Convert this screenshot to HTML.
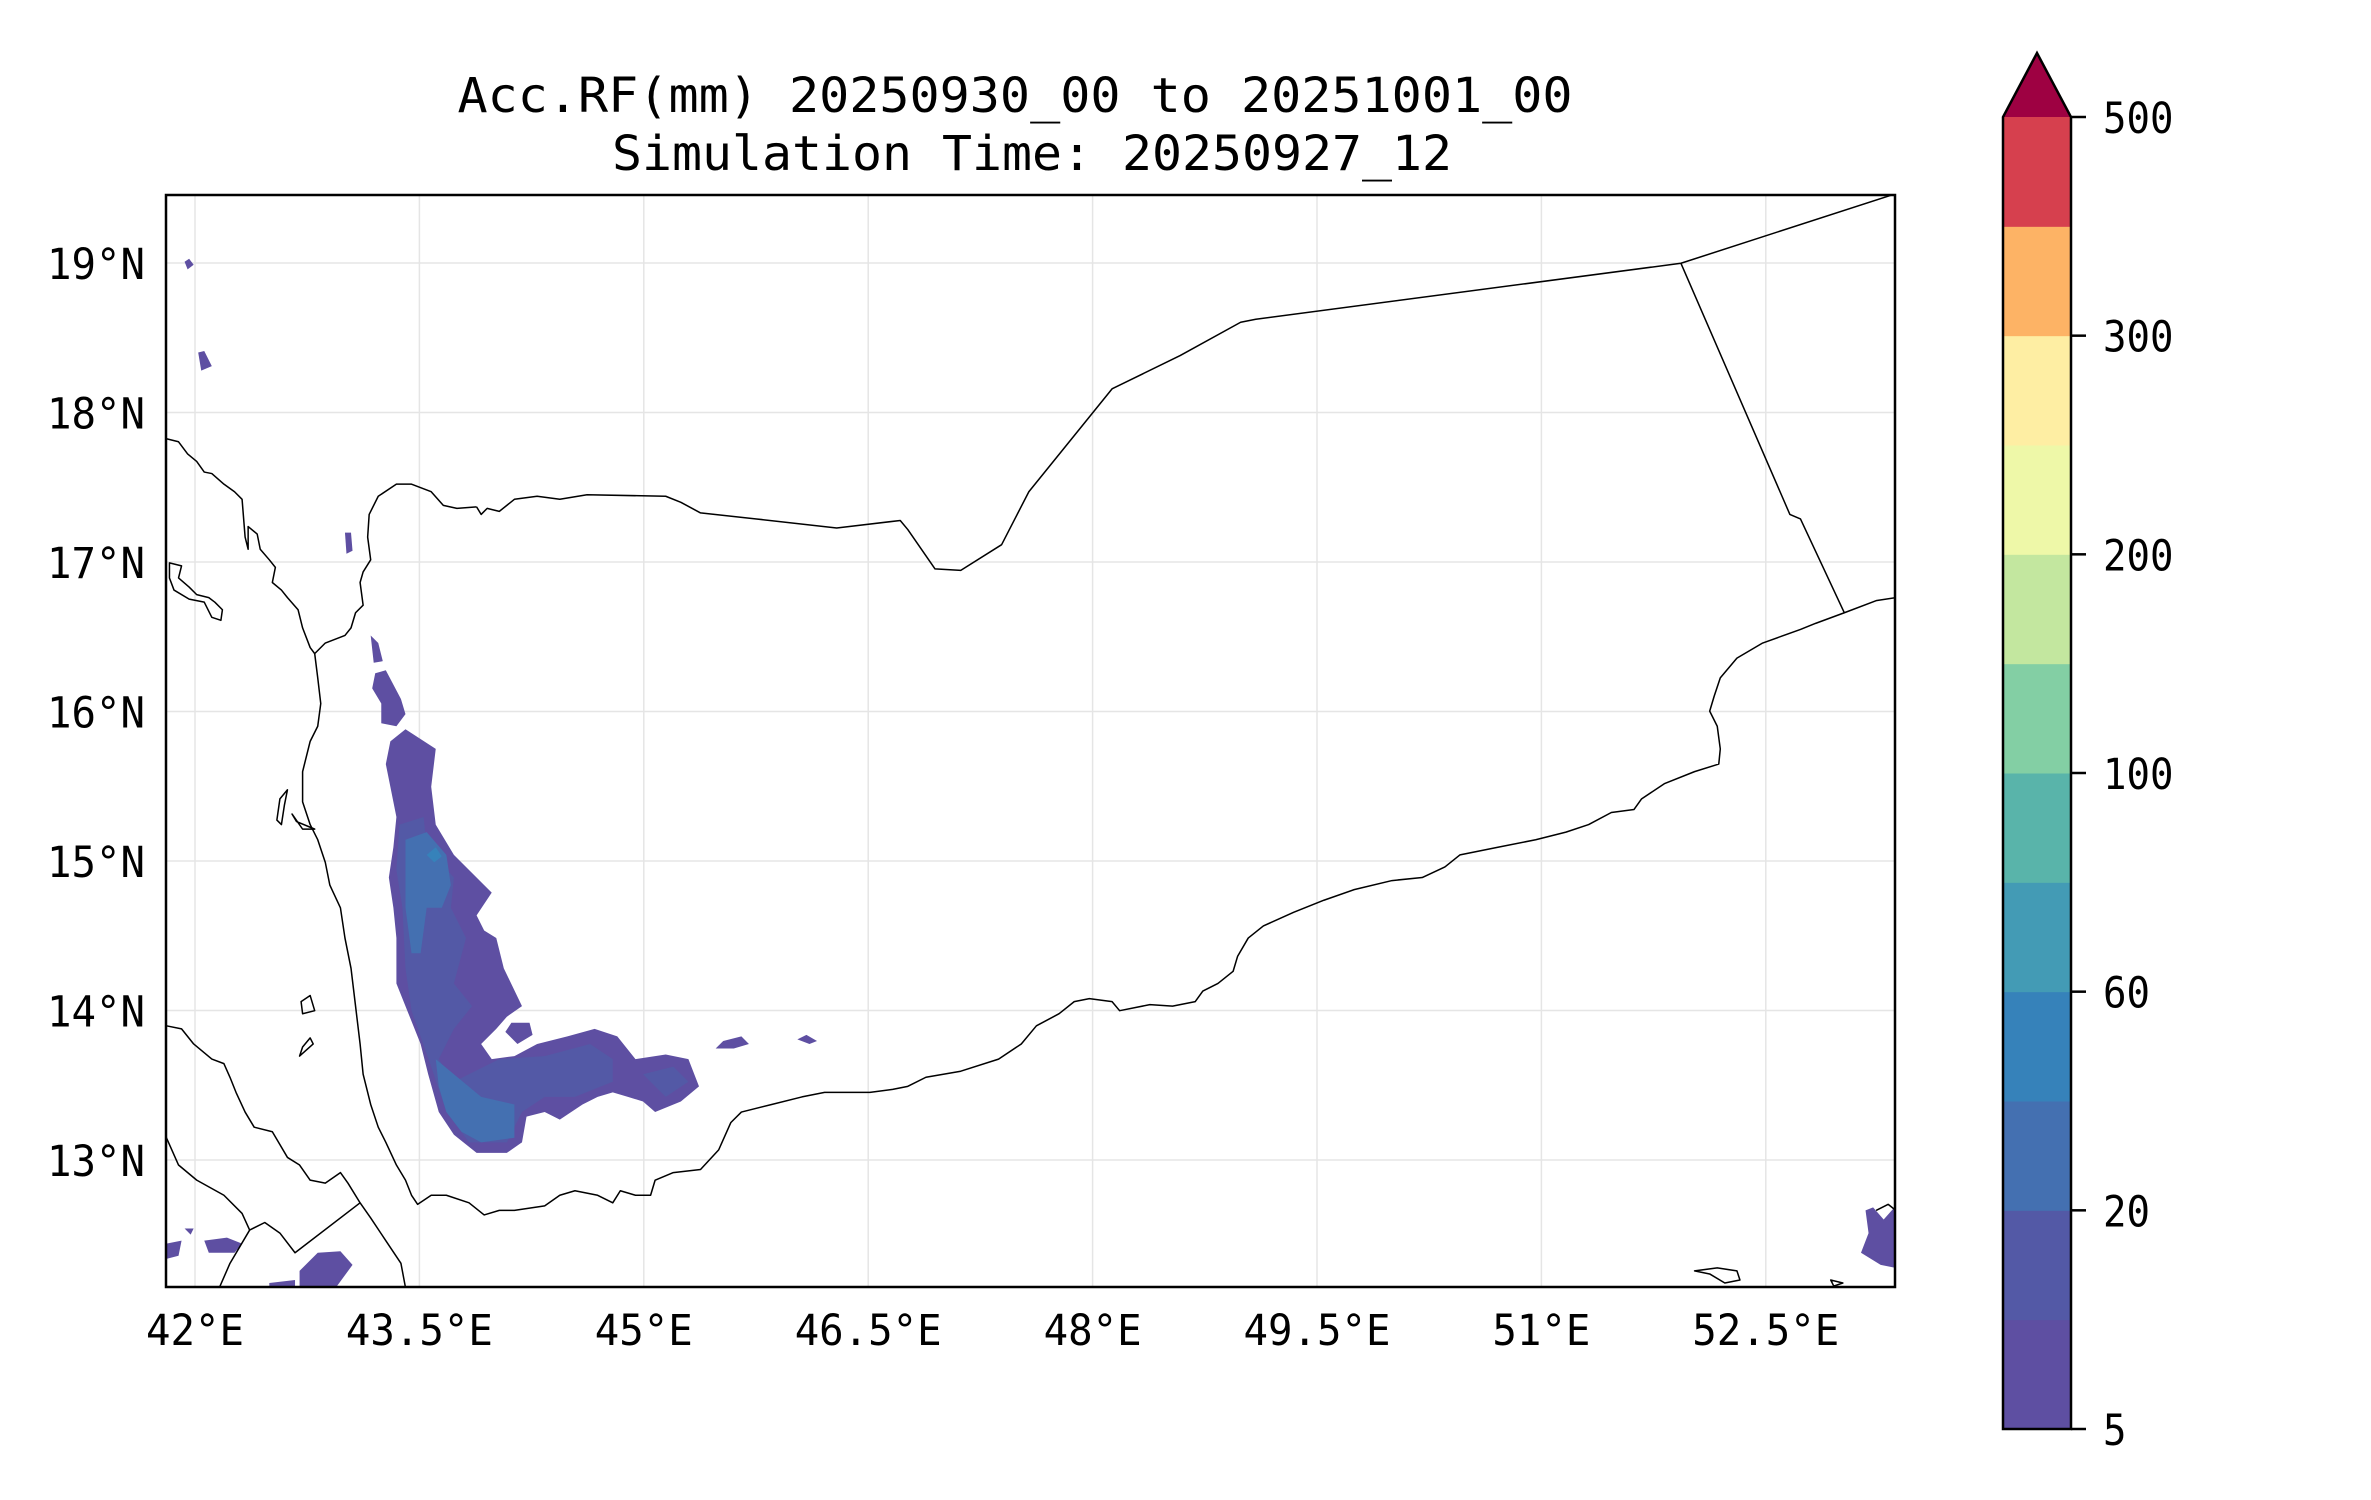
<!DOCTYPE html>
<html><head><meta charset="utf-8"><title>Acc.RF map</title>
<style>
html,body{margin:0;padding:0;background:#fff;}
svg{display:block;}
text{font-family:"DejaVu Sans Mono","Liberation Mono",monospace;fill:#000;}
</style></head>
<body>
<svg id="chart" xmlns="http://www.w3.org/2000/svg" width="2371" height="1500" viewBox="0 0 2371 1500">
  <rect x="0" y="0" width="2371" height="1500" fill="#fff"/>
  <text x="1015" y="112" font-size="48" text-anchor="middle" textLength="1115" lengthAdjust="spacingAndGlyphs">Acc.RF(mm) 20250930_00 to 20251001_00</text>
  <text x="1032" y="170" font-size="48" text-anchor="middle" textLength="840" lengthAdjust="spacingAndGlyphs">Simulation Time: 20250927_12</text>

  <defs><clipPath id="axclip"><rect x="166" y="195" width="1729" height="1092"/></clipPath></defs>
  <g id="grid" clip-path="url(#axclip)"></g>

  <g clip-path="url(#axclip)">
   <g transform="scale(1.513)">
    <g stroke="none">
      <path fill="#5e4fa2" fill-rule="evenodd" d="M258,490 L268,482 L288,495 L285,520 L288,545 L300,565 L310,575 L325,590 L315,605 L320,615 L328,620 L333,640 L345,665 L335,672 L328,680 L318,690 L325,700 L340,698 L355,690 L375,685 L393,680 L408,685 L420,700 L440,697 L455,700 L462,718 L450,728 L433,735 L425,728 L415,725 L405,722 L395,725 L385,730 L370,740 L360,735 L348,738 L345,755 L335,762 L315,762 L300,750 L290,735 L283,710 L278,690 L270,670 L262,650 L262,620 L260,600 L257,580 L260,560 L262,540 L258,520 L255,505 Z M334,682 L338,676 L350,676 L352,684 L342,690 Z"/>
      <path fill="#5359a6" d="M264,545 L280,540 L282,560 L300,580 L298,600 L308,620 L300,650 L312,665 L300,680 L290,700 L300,715 L330,700 L360,698 L390,690 L405,700 L405,715 L380,725 L360,725 L345,735 L335,755 L310,755 L295,735 L285,705 L272,668 L268,640 L266,600 L262,575 Z M425,710 L445,705 L455,715 L440,725 Z"/>
      <path fill="#4470b1" d="M268,555 L282,550 L295,565 L298,585 L292,600 L282,600 L278,630 L272,630 L268,600 Z M288,700 L300,710 L318,725 L340,730 L340,752 L318,755 L305,748 L295,735 L290,718 Z"/>
      <path fill="#3682ba" d="M282,565 L288,560 L292,566 L287,570 Z"/>
      <path fill="#5e4fa2" d="M122,173 L125,171 L128,175 L124,178 Z"/>
      <path fill="#5e4fa2" d="M131,233 L135,232 L140,242 L133,245 Z"/>
      <path fill="#5e4fa2" d="M228,352 L232,352 L233,364 L229,366 Z"/>
      <path fill="#5e4fa2" d="M245,420 L250,425 L253,437 L247,438 Z"/>
      <path fill="#5e4fa2" d="M248,445 L255,443 L265,462 L268,472 L262,480 L252,478 L252,465 L246,455 Z"/>
      <path fill="#5e4fa2" d="M473,693 L478,688 L490,685 L495,690 L485,693 Z"/>
      <path fill="#5e4fa2" d="M527,687 L533,684 L540,688 L535,690 Z"/>
      <path fill="#5e4fa2" d="M110,822 L120,820 L118,830 L110,832 Z M135,820 L150,818 L160,822 L155,828 L138,828 Z M122,812 L128,812 L126,816 Z"/>
      <path fill="#5e4fa2" d="M198,840 L210,828 L225,827 L233,836 L222,851 L198,851 Z M178,848 L195,846 L195,851 L178,851 Z"/>
      <path fill="#5e4fa2" d="M1233,800 L1238,798 L1245,806 L1253,797 L1253,838 L1243,836 L1230,828 L1235,815 Z"/>
    </g>
    <g fill="none" stroke="#000" stroke-width="1" stroke-linejoin="round">
      <path d="M110,290 L118,292 L124,300 L130,305 L135,312 L140,313 L148,320 L155,325 L160,330 L162,355 L164,363 L164,348 L170,353 L172,363 L178,370 L182,375 L180,385 L186,390 L190,395 L197,403 L200,415 L205,428 L208,432"/>
      <path d="M1253,395 L1240,397 L1219,405 L1200,412 L1190,416 L1165,425 L1148,435 L1137,448 L1133,460 L1130,470 L1135,480 L1137,495 L1136,505 L1120,510 L1100,518 L1085,528 L1080,535 L1065,537 L1050,545 L1035,550 L1015,555 L990,560 L965,565 L955,573 L940,580 L920,582 L895,588 L875,595 L855,603 L835,612 L825,620 L818,632 L815,642 L805,650 L795,655 L790,662 L775,665 L760,664 L740,668 L735,662 L720,660 L710,662 L700,670 L685,678 L675,690 L660,700 L635,708 L612,712 L600,718 L590,720 L575,722 L545,722 L530,725 L510,730 L490,735 L483,742 L475,760 L463,773 L445,775 L433,780 L430,790 L420,790 L410,787 L405,795 L395,790 L380,787 L370,790 L360,797 L340,800 L330,800 L320,803 L310,795 L295,790 L285,790 L276,796 L272,790 L268,780 L262,770 L255,755 L250,745 L245,730 L240,710 L238,690 L235,665 L232,640 L228,620 L225,600 L218,585 L215,570 L210,555 L205,545 L200,530 L200,510 L205,490 L210,480 L212,465 L210,448 L208,432 L215,425 L228,420 L232,415 L235,405 L240,400 L238,385 L240,378 L245,370 L243,355 L244,340 L250,328 L262,320 L272,320 L285,325 L293,334 L302,336 L315,335"/>
      <path d="M315,335 L318,340 L322,336 L330,338 L340,330 L355,328 L370,330 L388,327 L440,328 L450,332 L463,339 L500,343 L553,349 L595,344 L600,350 L618,376 L635,377 L662,360 L680,325 L735,257 L780,235 L820,213 L830,211 L1111,174 L1250,129"/>
      <path d="M1111,174 L1183,340 L1190,343 L1219,405"/>
      <path d="M110,678 L120,680 L128,690 L140,700 L148,703 L152,712 L156,722 L162,735 L168,745 L180,748 L190,765 L198,770 L205,780 L215,782 L225,775 L230,782 L238,795 L245,805 L255,820 L265,835 L268,851"/>
      <path d="M110,752 L118,770 L130,780 L148,790 L160,802 L165,813 L175,808 L185,815 L195,828 L238,795 M165,813 L152,835 L145,851"/>
      <path d="M112,372 L120,374 L118,382 L125,388 L130,393 L138,395 L142,398 L147,403 L146,410 L140,408 L135,398 L125,396 L115,390 L112,382 Z"/>
      <path d="M185,528 L190,522 L188,532 L186,545 L183,542 Z M193,538 L200,548 L208,548 L196,543 Z"/>
      <path d="M199,662 L205,658 L208,668 L200,670 Z M200,692 L205,686 L207,690 L198,698 Z M1120,840 L1130,842 L1140,848 L1150,846 L1148,840 L1135,838 Z M1210,846 L1218,848 L1212,850 Z M1240,800 L1248,796 L1253,800"/>
    </g>
   </g>
  </g>

  <rect x="166" y="195" width="1729" height="1092" fill="none" stroke="#000" stroke-width="2.5"/>
  <g id="xlabels"></g>
  <g id="ylabels"></g>
  <g id="cbar"></g>
</svg>
<script>
const NS = 'http://www.w3.org/2000/svg';
// map axes data
const lonTicks = [42, 43.5, 45, 46.5, 48, 49.5, 51, 52.5];
const lonLabels = ['42°E', '43.5°E', '45°E', '46.5°E', '48°E', '49.5°E', '51°E', '52.5°E'];
const latTicks = [13, 14, 15, 16, 17, 18, 19];
const latLabels = ['13°N', '14°N', '15°N', '16°N', '17°N', '18°N', '19°N'];
// colorbar data
const cbarLevels = [5, 10, 20, 40, 60, 80, 100, 150, 200, 250, 300, 400, 500];
const cbarColors = ['#5e4fa2', '#5359a6', '#4470b1', '#3682ba', '#439bb5', '#59b4aa', '#83cfa4', '#c3e79f', '#eef8a8', '#feeea3', '#fdb365', '#d6404e'];
const cbarTickValues = [5, 20, 60, 100, 200, 300, 500];
const cbarExtendColor = '#9e0142';

function xLon(lon) { return 195 + (lon - 42) * 149.6; }
function yLat(lat) { return 263 + (19 - lat) * 149.5; }
function mk(tag, attrs, parent) {
  const e = document.createElementNS(NS, tag);
  for (const k in attrs) e.setAttribute(k, attrs[k]);
  parent.appendChild(e);
  return e;
}
const CW = 24.5;
const grid = document.getElementById('grid');
const xl = document.getElementById('xlabels');
const yl = document.getElementById('ylabels');
lonTicks.forEach((lon, i) => {
  const x = xLon(lon);
  const g = mk('line', {x1: x, x2: x, y1: 195, y2: 1287, stroke: '#e5e5e5', 'stroke-width': 1.5}, grid);
  
  
  const t = mk('text', {x: x, y: 1345, 'font-size': 43, 'text-anchor': 'middle', textLength: lonLabels[i].length * CW, lengthAdjust: 'spacingAndGlyphs'}, xl);
  t.textContent = lonLabels[i];
  
  
});
latTicks.forEach((lat, i) => {
  const y = yLat(lat);
  const g = mk('line', {x1: 166, x2: 1895, y1: y, y2: y, stroke: '#e5e5e5', 'stroke-width': 1.5}, grid);
  
  
  const t = mk('text', {x: 145, y: y + 16, 'font-size': 43, 'text-anchor': 'end', textLength: latLabels[i].length * CW, lengthAdjust: 'spacingAndGlyphs'}, yl);
  t.textContent = latLabels[i];
  
  
});
const cb = document.getElementById('cbar');
const cbL = 2003, cbR = 2071, cbTop = 117, cbBot = 1429;
const nB = cbarLevels.length - 1;
const bandH = (cbBot - cbTop) / nB;
function yLevel(v) { return cbBot - cbarLevels.indexOf(v) * bandH; }
cbarColors.forEach((c, i) => {
  const r = mk('rect', {x: cbL, y: cbBot - (i + 1) * bandH, width: cbR - cbL, height: bandH + 0.5, fill: c}, cb);
  
  
});
const tri = mk('polygon', {points: `${cbL},${cbTop} ${(cbL + cbR) / 2},53 ${cbR},${cbTop}`, fill: cbarExtendColor}, cb);


const outline = mk('path', {d: `M${cbL},${cbBot} L${cbL},${cbTop} L${(cbL + cbR) / 2},53 L${cbR},${cbTop} L${cbR},${cbBot} Z`, fill: 'none', stroke: '#000', 'stroke-width': 2.5}, cb);


cbarTickValues.forEach(v => {
  const y = yLevel(v);
  const tk = mk('line', {x1: cbR, x2: cbR + 15, y1: y, y2: y, stroke: '#000', 'stroke-width': 2.5}, cb);
  
  
  const s = String(v);
  const t = mk('text', {x: 2103, y: y + 16, 'font-size': 43, textLength: s.length * 23.5, lengthAdjust: 'spacingAndGlyphs'}, cb);
  t.textContent = s;
  
  
});
</script>
</body></html>
